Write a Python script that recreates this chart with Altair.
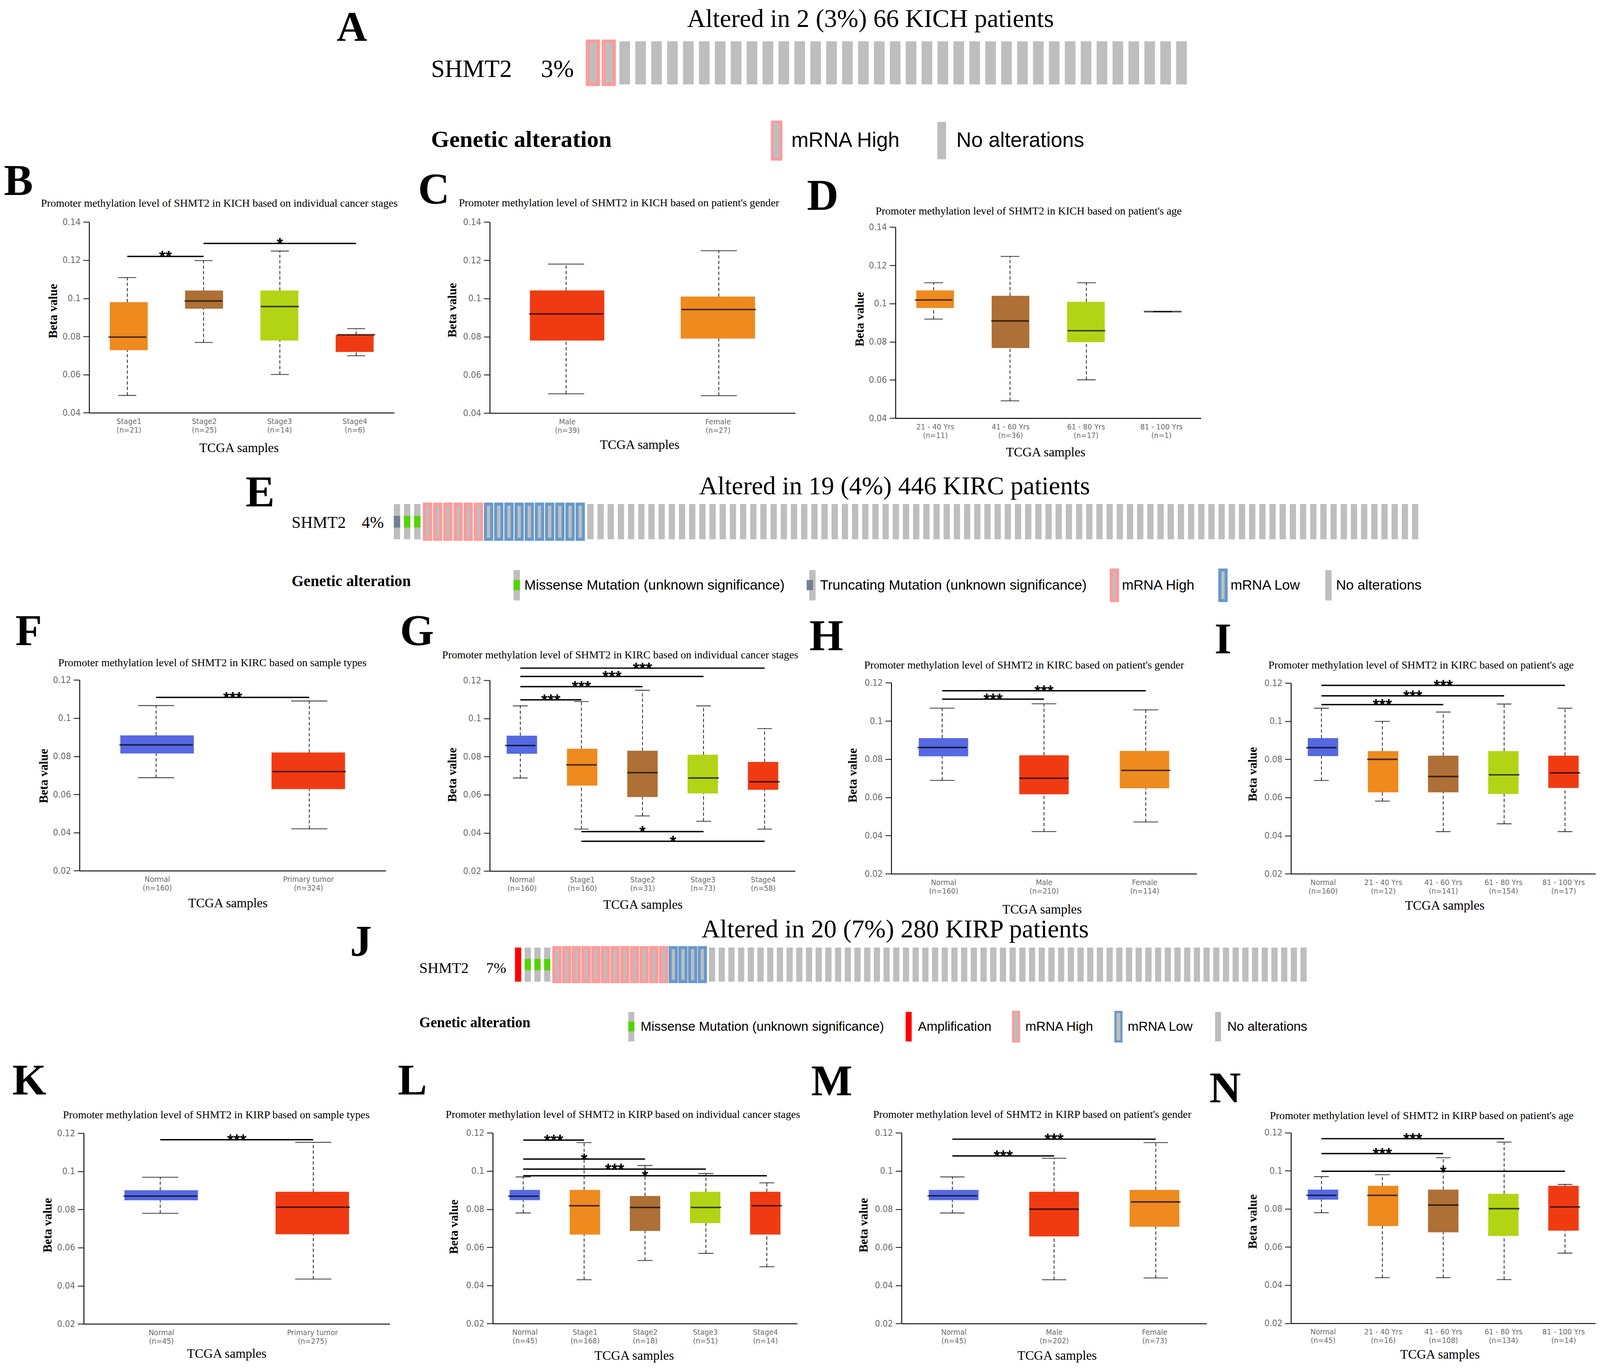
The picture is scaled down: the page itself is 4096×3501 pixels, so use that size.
import json
import altair as alt
import pandas as pd

# ============================ values ============================
KICH_TICKS = [0.04, 0.06, 0.08, 0.1, 0.12, 0.14]
KIRX_TICKS = [0.02, 0.04, 0.06, 0.08, 0.1, 0.12]

MISS = "Missense Mutation (unknown significance)"
TRUNC = "Truncating Mutation (unknown significance)"
AMP = "Amplification"
HIGH = "mRNA High"
LOW = "mRNA Low"
NONE_ = "No alterations"

# --- A: KICH oncoprint (type, number of consecutive columns)
A_TITLE = "Altered in 2 (3%) 66 KICH patients"
A_PCT = "3%"
A_COLUMNS = [(HIGH, 2), (NONE_, 36)]
A_LEGEND = [HIGH, NONE_]

# --- E: KIRC oncoprint
E_TITLE = "Altered in 19 (4%) 446 KIRC patients"
E_PCT = "4%"
E_COLUMNS = [(TRUNC, 1), (MISS, 2), (HIGH, 6), (LOW, 10), (NONE_, 82)]
E_LEGEND = [MISS, TRUNC, HIGH, LOW, NONE_]

# --- J: KIRP oncoprint
J_TITLE = "Altered in 20 (7%) 280 KIRP patients"
J_PCT = "7%"
J_COLUMNS = [(AMP, 1), (MISS, 3), (HIGH, 12), (LOW, 4), (NONE_, 62)]
J_LEGEND = [MISS, AMP, HIGH, LOW, NONE_]

# --- B: KICH by stage
B_CATS = ["Stage1", "Stage2", "Stage3", "Stage4"]
B_N = [21, 25, 14, 6]
B_MIN = [0.0491, 0.0769, 0.0601, 0.0699]
B_Q1 = [0.0728, 0.0946, 0.0779, 0.0719]
B_MED = [0.0797, 0.0986, 0.0957, 0.0809]
B_Q3 = [0.0980, 0.1041, 0.1041, 0.0809]
B_MAX = [0.1109, 0.1198, 0.1248, 0.0841]
B_SIG = [("Stage1", "Stage2", 0.1220, "**"), ("Stage2", "Stage4", 0.1288, "*")]

# --- C: KICH by gender
C_CATS = ["Male", "Female"]
C_N = [39, 27]
C_MIN = [0.0501, 0.0491]
C_Q1 = [0.0780, 0.0790]
C_MED = [0.0919, 0.0942]
C_Q3 = [0.1042, 0.1010]
C_MAX = [0.1180, 0.1250]
C_SIG = []

# --- D: KICH by age
D_CATS = ["21 - 40 Yrs", "41 - 60 Yrs", "61 - 80 Yrs", "81 - 100 Yrs"]
D_N = [11, 36, 17, 1]
D_MIN = [0.0919, 0.0491, 0.0601, 0.0958]
D_Q1 = [0.0977, 0.0767, 0.0798, 0.0958]
D_MED = [0.1019, 0.0909, 0.0858, 0.0958]
D_Q3 = [0.1069, 0.1041, 0.1009, 0.0958]
D_MAX = [0.1109, 0.1247, 0.1109, 0.0958]
D_SIG = []

# --- F: KIRC by sample type
F_CATS = ["Normal", "Primary tumor"]
F_N = [160, 324]
F_MIN = [0.0688, 0.0420]
F_Q1 = [0.0815, 0.0628]
F_MED = [0.0860, 0.0720]
F_Q3 = [0.0910, 0.0820]
F_MAX = [0.1066, 0.1090]
F_SIG = [("Normal", "Primary tumor", 0.1109, "***")]

# --- G: KIRC by stage
G_CATS = ["Normal", "Stage1", "Stage2", "Stage3", "Stage4"]
G_N = [160, 160, 31, 73, 58]
G_MIN = [0.0688, 0.0420, 0.0489, 0.0461, 0.0420]
G_Q1 = [0.0815, 0.0648, 0.0588, 0.0607, 0.0626]
G_MED = [0.0858, 0.0757, 0.0716, 0.0688, 0.0668]
G_Q3 = [0.0910, 0.0841, 0.0831, 0.0810, 0.0772]
G_MAX = [0.1066, 0.1089, 0.1148, 0.1066, 0.0947]
G_SIG = [("Normal", "Stage1", 0.1098, "***"), ("Normal", "Stage2", 0.1167, "***"),
         ("Normal", "Stage3", 0.1220, "***"), ("Normal", "Stage4", 0.1264, "***"),
         ("Stage1", "Stage3", 0.0407, "*"), ("Stage1", "Stage4", 0.0356, "*")]

# --- H: KIRC by gender
H_CATS = ["Normal", "Male", "Female"]
H_N = [160, 210, 114]
H_MIN = [0.0689, 0.0421, 0.0471]
H_Q1 = [0.0815, 0.0616, 0.0648]
H_MED = [0.0861, 0.0700, 0.0741]
H_Q3 = [0.0910, 0.0820, 0.0843]
H_MAX = [0.1067, 0.1090, 0.1058]
H_SIG = [("Normal", "Male", 0.1114, "***"), ("Normal", "Female", 0.1158, "***")]

# --- I: KIRC by age
I_CATS = ["Normal", "21 - 40 Yrs", "41 - 60 Yrs", "61 - 80 Yrs", "81 - 100 Yrs"]
I_N = [160, 12, 141, 154, 17]
I_MIN = [0.0689, 0.0581, 0.0421, 0.0462, 0.0421]
I_Q1 = [0.0817, 0.0627, 0.0627, 0.0618, 0.0650]
I_MED = [0.0861, 0.0800, 0.0710, 0.0719, 0.0729]
I_Q3 = [0.0911, 0.0843, 0.0819, 0.0843, 0.0819]
I_MAX = [0.1068, 0.0999, 0.1048, 0.1090, 0.1068]
I_SIG = [("Normal", "41 - 60 Yrs", 0.1087, "***"), ("Normal", "61 - 80 Yrs", 0.1133, "***"),
         ("Normal", "81 - 100 Yrs", 0.1188, "***")]

# --- K: KIRP by sample type
K_CATS = ["Normal", "Primary tumor"]
K_N = [45, 275]
K_MIN = [0.0780, 0.0435]
K_Q1 = [0.0848, 0.0670]
K_MED = [0.0870, 0.0812]
K_Q3 = [0.0901, 0.0893]
K_MAX = [0.0969, 0.1152]
K_SIG = [("Normal", "Primary tumor", 0.1166, "***")]

# --- L: KIRP by stage
L_CATS = ["Normal", "Stage1", "Stage2", "Stage3", "Stage4"]
L_N = [45, 168, 18, 51, 14]
L_MIN = [0.0780, 0.0430, 0.0531, 0.0568, 0.0498]
L_Q1 = [0.0847, 0.0667, 0.0686, 0.0727, 0.0667]
L_MED = [0.0868, 0.0818, 0.0809, 0.0809, 0.0818]
L_Q3 = [0.0901, 0.0901, 0.0869, 0.0891, 0.0891]
L_MAX = [0.0969, 0.1149, 0.1029, 0.0987, 0.0938]
L_SIG = [("Normal", "Stage1", 0.1162, "***"), ("Normal", "Stage2", 0.1063, "*"),
         ("Normal", "Stage3", 0.1010, "***"), ("Normal", "Stage4", 0.0975, "*")]

# --- M: KIRP by gender
M_CATS = ["Normal", "Male", "Female"]
M_N = [45, 202, 73]
M_MIN = [0.0780, 0.0430, 0.0439]
M_Q1 = [0.0847, 0.0657, 0.0708]
M_MED = [0.0870, 0.0800, 0.0838]
M_Q3 = [0.0901, 0.0891, 0.0901]
M_MAX = [0.0969, 0.1067, 0.1149]
M_SIG = [("Normal", "Male", 0.1079, "***"), ("Normal", "Female", 0.1167, "***")]

# --- N: KIRP by age
N_CATS = ["Normal", "21 - 40 Yrs", "41 - 60 Yrs", "61 - 80 Yrs", "81 - 100 Yrs"]
N_N = [45, 16, 108, 134, 14]
N_MIN = [0.0780, 0.0439, 0.0439, 0.0429, 0.0568]
N_Q1 = [0.0848, 0.0710, 0.0677, 0.0658, 0.0686]
N_MED = [0.0871, 0.0871, 0.0820, 0.0801, 0.0810]
N_Q3 = [0.0901, 0.0921, 0.0901, 0.0879, 0.0921]
N_MAX = [0.0969, 0.0979, 0.1068, 0.1150, 0.0928]
N_SIG = [("Normal", "41 - 60 Yrs", 0.1090, "***"), ("Normal", "61 - 80 Yrs", 0.1168, "***"),
         ("Normal", "81 - 100 Yrs", 0.0997, "*")]

GENE = "SHMT2"
TITLE_STEM = "Promoter methylation level of SHMT2 in "

# ============================ styling / layout ============================
K = 4096 / 5312.0
W, H = 4080, 3485


def P(v):
    return round(v * K - 8, 2)


def S(v):
    return round(v * K, 2)


SERIF = "Liberation Serif"
SANS = "Liberation Sans"
NARROW = "DejaVu Sans Condensed, Liberation Sans Narrow, Roboto Condensed, Liberation Sans"
TICKGRAY = "#6b6b6b"

BLUE = "#5668E2"
ORANGE = "#EE8A1E"
BROWN = "#AE7036"
LIME = "#B3D415"
RED = "#F03B12"

GRAY = "#bebebe"
PINK = "#ff9a9a"
LOWBLUE = "#6699cc"
GREEN = "#53d400"
SLATE = "#708090"
AMPRED = "#ff0000"

ALT_FILL = {MISS: GRAY, TRUNC: GRAY, AMP: AMPRED, HIGH: GRAY, LOW: GRAY, NONE_: GRAY}
ALT_STROKE = {MISS: "transparent", TRUNC: "transparent", AMP: "transparent", HIGH: PINK, LOW: LOWBLUE,
              NONE_: "transparent"}
ALT_MID = {MISS: GREEN, TRUNC: SLATE}
MUTATIONS = [MISS, TRUNC]

# Arial / Liberation Sans advance widths (1/1000 em) used to place legend overlays
ARIAL_W = {"M": 833, "i": 222, "s": 500, "e": 556, "n": 556, " ": 278, "u": 556, "t": 278, "a": 556,
           "o": 556, "(": 333, "k": 500, "w": 722, "g": 556, "f": 278, "c": 500, ")": 333, "T": 611,
           "r": 333, "A": 667, "m": 833, "p": 556, "l": 222, "R": 722, "N": 722, "H": 722, "h": 556,
           "L": 556}


def text_w(s, fs):
    return sum(ARIAL_W.get(ch, 556) for ch in s) / 1000.0 * fs


LAY = {
    "B": dict(ax=296, xr=1309, yt=737, yb=1370, title=(728, 686), letter=(13, 647), beta=(177, 1032), tcga=(793, 1487), box=126, cap=60),
    "C": dict(ax=1626, xr=2640, yt=737, yb=1371, title=(2055, 685), letter=(1388, 676), beta=(1503, 1029), tcga=(2123, 1477), box=247, cap=120),
    "D": dict(ax=2973, xr=3987, yt=754, yb=1388, title=(3415, 712), letter=(2679, 697), beta=(2855, 1059), tcga=(3471, 1501), box=125, cap=62),
    "F": dict(ax=264, xr=1281, yt=2257, yb=2890, title=(705, 2211), letter=(51, 2141), beta=(146, 2575), tcga=(756, 2998), box=244, cap=120),
    "G": dict(ax=1626, xr=2640, yt=2258, yb=2891, title=(2059, 2185), letter=(1328, 2141), beta=(1502, 2571), tcga=(2134, 3003), box=101, cap=49),
    "H": dict(ax=2959, xr=3973, yt=2266, yb=2900, title=(3400, 2219), letter=(2687, 2158), beta=(2832, 2573), tcga=(3459, 3018), box=164, cap=82),
    "I": dict(ax=4286, xr=5297, yt=2267, yb=2900, title=(4718, 2219), letter=(4032, 2168), beta=(4160, 2569), tcga=(4796, 3006), box=101, cap=49),
    "K": dict(ax=278, xr=1294, yt=3761, yb=4394, title=(718, 3712), letter=(41, 3632), beta=(159, 4066), tcga=(752, 4493), box=244, cap=120),
    "L": dict(ax=1636, xr=2647, yt=3760, yb=4393, title=(2068, 3711), letter=(1321, 3632), beta=(1507, 4071), tcga=(2105, 4500), box=101, cap=50),
    "M": dict(ax=2993, xr=4006, yt=3760, yb=4393, title=(3427, 3711), letter=(2693, 3635), beta=(2868, 4066), tcga=(3509, 4500), box=165, cap=81),
    "N": dict(ax=4286, xr=5297, yt=3759, yb=4392, title=(4720, 3714), letter=(4015, 3659), beta=(4160, 4054), tcga=(4780, 4496), box=101, cap=49),
}

# legend geometry: lcx = centre of first swatch (ref px); loff / cpad in output px
ROWS = {
    "A": dict(x0=1942, x1=3949, pi=0.33, yt=137, yb=280, sw=11.5, title=(2890, 89), letter=(1118, 136), lfont=140,
              gene=(1431, 255), pct=(1796, 255), gfs=82, lt=(1431, 487), ltfs=78,
              lcx=2578.5, lcy=466, lw=29, lh=124, lfs=68.8, loff=10.9, cpad=78.6, lsw=9),
    "E": dict(x0=1301, x1=4715, pi=0.38, yt=1673, yb=1790, sw=10, title=(2970, 1641), letter=(815, 1681), lfont=145,
              gene=(968, 1752), pct=(1201, 1752), gfs=55, lt=(968, 1945), ltfs=51.5,
              lcx=1715.5, lcy=1942, lw=21, lh=101, lfs=46, loff=1.6, cpad=47, lsw=10),
    "J": dict(x0=1704, x1=4344, pi=0.36, yt=3145, yb=3258, sw=10, title=(2972, 3111), letter=(1162, 3172), lfont=145,
              gene=(1392, 3229), pct=(1614, 3229), gfs=50, lt=(1392, 3409), ltfs=48,
              lcx=2096, lcy=3407, lw=20, lh=98, lfs=43, loff=7.3, cpad=44, lsw=7),
}


def text_layer(text, x, y, size, weight="normal", font=SERIF, align="left"):
    return alt.Chart(pd.DataFrame({"t": [text]})).mark_text(
        font=font, fontSize=S(size), fontWeight=weight, align=align, baseline="alphabetic", color="black"
    ).encode(text="t:N", x=alt.value(P(x)), y=alt.value(P(y)))


def box_panel(letter, cats, ns, mins, q1s, meds, q3s, maxs, sigs, colors, ticks, title):
    L = LAY[letter]
    n = len(cats)
    labels = [f"{c}|(n={k})" for c, k in zip(cats, ns)]
    df = pd.DataFrame({"i": list(range(n)), "cat": cats, "mn": mins, "q1": q1s,
                       "md": meds, "q3": q3s, "mx": maxs})
    xs = alt.Scale(type="linear", domain=[-0.5, n - 0.5], range=[P(L["ax"]), P(L["xr"])], zero=False, nice=False)
    ys = alt.Scale(type="linear", domain=[ticks[0], ticks[-1]], range=[P(L["yb"]), P(L["yt"])],
                   zero=False, nice=False)
    xaxis = alt.Axis(
        orient="bottom", offset=P(L["yb"]) - H, values=list(range(n)),
        labelExpr="split(" + json.dumps(labels) + "[datum.value], '|')",
        ticks=False, tickSize=0, grid=False, domainColor="black", domainWidth=S(3),
        labelFont=NARROW, labelFontSize=S(26), labelColor=TICKGRAY, labelLineHeight=S(28.5),
        labelPadding=S(16), labelOverlap=False, labelFlush=False, labelAlign="center", labelBaseline="top",
        title="TCGA samples", titleFont=SERIF, titleFontSize=S(43), titleFontWeight="normal", titleColor="black",
        titleX=P(L["tcga"][0]), titleY=S(L["tcga"][1] - L["yb"]), titleAlign="center", titleBaseline="middle")
    yaxis = alt.Axis(
        orient="left", offset=-P(L["ax"]), values=ticks, format=".2~f", grid=False,
        domainColor="black", domainWidth=S(3), tickColor="black", tickWidth=S(2.5), tickSize=S(20),
        labelFont=NARROW, labelFontSize=S(30), labelColor=TICKGRAY, labelPadding=S(9),
        labelOverlap=False, labelFlush=False,
        title="Beta value", titleFont=SERIF, titleFontWeight="bold", titleFontSize=S(40.5), titleColor="black",
        titleAngle=270, titleX=S(L["beta"][0] - L["ax"]), titleY=P(L["beta"][1]),
        titleAlign="center", titleBaseline="middle")
    base = alt.Chart(df)
    Xn = alt.X("i:Q", scale=xs, axis=None)
    dash = [S(11), S(7)]
    wlo = base.mark_rule(color="black", strokeWidth=S(2.2), strokeDash=dash).encode(
        x=Xn, y=alt.Y("mn:Q", scale=ys, axis=None), y2="q1:Q")
    whi = base.mark_rule(color="black", strokeWidth=S(2.2), strokeDash=dash).encode(
        x=Xn, y=alt.Y("q3:Q", scale=ys, axis=None), y2="mx:Q")
    box = base.mark_bar(size=S(L["box"])).encode(
        x=alt.X("i:Q", scale=xs, axis=xaxis),
        y=alt.Y("q1:Q", scale=ys, axis=yaxis), y2="q3:Q",
        color=alt.Color("cat:N", scale=alt.Scale(domain=cats, range=colors), legend=None))
    med = base.mark_tick(orient="horizontal", size=S(L["box"]), thickness=S(5), color="black").encode(
        x=Xn, y=alt.Y("md:Q", scale=ys, axis=None))
    cap_lo = base.mark_tick(orient="horizontal", size=S(L["cap"]), thickness=S(3), color="black").encode(
        x=Xn, y=alt.Y("mn:Q", scale=ys, axis=None))
    cap_hi = base.mark_tick(orient="horizontal", size=S(L["cap"]), thickness=S(3), color="black").encode(
        x=Xn, y=alt.Y("mx:Q", scale=ys, axis=None))
    units = [box, wlo, whi, med, cap_lo, cap_hi]
    if sigs:
        sdf = pd.DataFrame({"a": [cats.index(s[0]) for s in sigs], "b": [cats.index(s[1]) for s in sigs],
                            "y": [s[2] for s in sigs], "lab": [s[3] for s in sigs]})
        sdf["m"] = (sdf["a"] + sdf["b"]) / 2.0
        srule = alt.Chart(sdf).mark_rule(color="black", strokeWidth=S(4.5)).encode(
            x=alt.X("a:Q", scale=xs, axis=None), x2="b:Q", y=alt.Y("y:Q", scale=ys, axis=None))
        stext = alt.Chart(sdf).mark_text(font=SANS, fontSize=S(54.5), fontWeight="bold", align="center",
                                         baseline="alphabetic", dy=S(19.5), color="black").encode(
            x=alt.X("m:Q", scale=xs, axis=None), y=alt.Y("y:Q", scale=ys, axis=None), text="lab:N")
        units += [srule, stext]
    units.append(text_layer(title, L["title"][0], L["title"][1], 36, align="center"))
    units.append(text_layer(letter, L["letter"][0], L["letter"][1], 145, weight="bold"))
    return units


def onco_row(letter, columns, legend_cats, title, pct):
    R = ROWS[letter]
    seq = [a for a, k in columns for _ in range(k)]
    n = len(seq)
    df = pd.DataFrame({"col": list(range(n)), "alt": seq})
    xs = alt.Scale(type="band", domain=list(range(n)), range=[P(R["x0"]), P(R["x1"])],
                   paddingInner=R["pi"], paddingOuter=R["pi"] / 2)
    ys = alt.Scale(type="linear", domain=[0, 1], range=[P(R["yb"]), P(R["yt"])], zero=False, nice=False)
    w = S(R["lw"])
    hh = round(R["lh"] / R["lw"], 3)
    h3 = round(R["lh"] / (3.0 * R["lw"]), 3)
    full_path = f"M-1,{-hh}L1,{-hh}L1,{hh}L-1,{hh}Z"
    mid_path = f"M-1,{-h3}L1,{-h3}L1,{h3}L-1,{h3}Z"
    fs = S(R["lfs"])
    lsw = S(R["lsw"])
    off = max(int(-(-(w + lsw) // 1)), fs)
    lx = round(P(R["lcx"]) - off / 2.0, 2)
    ly = round(P(R["lcy"]) - off / 2.0, 2)
    common = dict(orient="none", direction="horizontal", title=None, legendY=ly,
                  symbolSize=round(w * w, 2), labelFont=SANS, labelFontSize=fs, labelColor="black",
                  labelOffset=R["loff"], columnPadding=R["cpad"], labelLimit=4000, padding=0,
                  symbolOpacity=1)
    leg = alt.Legend(symbolType=full_path, symbolStrokeWidth=lsw, legendX=lx, **common)
    X = alt.X("col:O", scale=xs, axis=None)
    bg = alt.Chart(df).mark_bar(strokeWidth=S(R["sw"])).encode(
        x=X,
        y=alt.YDatum(0, type="quantitative", scale=ys, axis=None),
        y2=alt.Y2Datum(1),
        fill=alt.Fill("alt:N", scale=alt.Scale(domain=legend_cats, range=[ALT_FILL[c] for c in legend_cats]),
                      legend=leg),
        stroke=alt.Stroke("alt:N", scale=alt.Scale(domain=legend_cats, range=[ALT_STROKE[c] for c in legend_cats]),
                          legend=leg),
    )
    units = [bg]
    # green / slate middle segments, each with a one-entry overlay legend on its swatch
    xpos = lx
    for cat in legend_cats:
        if cat in MUTATIONS and (df["alt"] == cat).any():
            leg_mid = alt.Legend(symbolType=mid_path, symbolStrokeWidth=0, labelExpr="''", zindex=2,
                                 legendX=round(xpos, 2), **common)
            mid = alt.Chart(df[df["alt"] == cat]).mark_bar().encode(
                x=X,
                y=alt.YDatum(1.0 / 3.0, type="quantitative", scale=ys, axis=None),
                y2=alt.Y2Datum(2.0 / 3.0),
                fill=alt.Fill("alt:N", scale=alt.Scale(domain=[cat], range=[ALT_MID[cat]]), legend=leg_mid),
            )
            units.append(mid)
        xpos += off + R["loff"] + text_w(cat, fs) + R["cpad"]
    units.append(text_layer(title, R["title"][0], R["title"][1], 85, align="center"))
    units.append(text_layer(letter, R["letter"][0], R["letter"][1], R["lfont"], weight="bold"))
    units.append(text_layer(GENE, R["gene"][0], R["gene"][1], R["gfs"]))
    units.append(text_layer(pct, R["pct"][0], R["pct"][1], R["gfs"]))
    units.append(text_layer("Genetic alteration", R["lt"][0], R["lt"][1], R["ltfs"], weight="bold"))
    return units


STAGE_COLORS = [ORANGE, BROWN, LIME, RED]
N_STAGE_COLORS = [BLUE, ORANGE, BROWN, LIME, RED]

units = []
units += onco_row("A", A_COLUMNS, A_LEGEND, A_TITLE, A_PCT)
units += box_panel("B", B_CATS, B_N, B_MIN, B_Q1, B_MED, B_Q3, B_MAX, B_SIG, STAGE_COLORS, KICH_TICKS,
                   TITLE_STEM + "KICH based on individual cancer stages")
units += box_panel("C", C_CATS, C_N, C_MIN, C_Q1, C_MED, C_Q3, C_MAX, C_SIG, [RED, ORANGE], KICH_TICKS,
                   TITLE_STEM + "KICH based on patient's gender")
units += box_panel("D", D_CATS, D_N, D_MIN, D_Q1, D_MED, D_Q3, D_MAX, D_SIG, STAGE_COLORS, KICH_TICKS,
                   TITLE_STEM + "KICH based on patient's age")
units += onco_row("E", E_COLUMNS, E_LEGEND, E_TITLE, E_PCT)
units += box_panel("F", F_CATS, F_N, F_MIN, F_Q1, F_MED, F_Q3, F_MAX, F_SIG, [BLUE, RED], KIRX_TICKS,
                   TITLE_STEM + "KIRC based on sample types")
units += box_panel("G", G_CATS, G_N, G_MIN, G_Q1, G_MED, G_Q3, G_MAX, G_SIG, N_STAGE_COLORS, KIRX_TICKS,
                   TITLE_STEM + "KIRC based on individual cancer stages")
units += box_panel("H", H_CATS, H_N, H_MIN, H_Q1, H_MED, H_Q3, H_MAX, H_SIG, [BLUE, RED, ORANGE], KIRX_TICKS,
                   TITLE_STEM + "KIRC based on patient's gender")
units += box_panel("I", I_CATS, I_N, I_MIN, I_Q1, I_MED, I_Q3, I_MAX, I_SIG, N_STAGE_COLORS, KIRX_TICKS,
                   TITLE_STEM + "KIRC based on patient's age")
units += onco_row("J", J_COLUMNS, J_LEGEND, J_TITLE, J_PCT)
units += box_panel("K", K_CATS, K_N, K_MIN, K_Q1, K_MED, K_Q3, K_MAX, K_SIG, [BLUE, RED], KIRX_TICKS,
                   TITLE_STEM + "KIRP based on sample types")
units += box_panel("L", L_CATS, L_N, L_MIN, L_Q1, L_MED, L_Q3, L_MAX, L_SIG, N_STAGE_COLORS, KIRX_TICKS,
                   TITLE_STEM + "KIRP based on individual cancer stages")
units += box_panel("M", M_CATS, M_N, M_MIN, M_Q1, M_MED, M_Q3, M_MAX, M_SIG, [BLUE, RED, ORANGE], KIRX_TICKS,
                   TITLE_STEM + "KIRP based on patient's gender")
units += box_panel("N", N_CATS, N_N, N_MIN, N_Q1, N_MED, N_Q3, N_MAX, N_SIG, N_STAGE_COLORS, KIRX_TICKS,
                   TITLE_STEM + "KIRP based on patient's age")

chart = alt.layer(*units).resolve_scale(
    x="independent", y="independent", color="independent", fill="independent", stroke="independent"
).resolve_axis(x="independent", y="independent").resolve_legend(
    color="independent", fill="independent", stroke="independent"
).properties(
    width=W, height=H, padding=0, autosize=alt.AutoSizeParams(type="none"), background="white"
).configure_view(strokeWidth=0)

chart.save("out.html", embed_options={"renderer": "svg", "actions": False})
